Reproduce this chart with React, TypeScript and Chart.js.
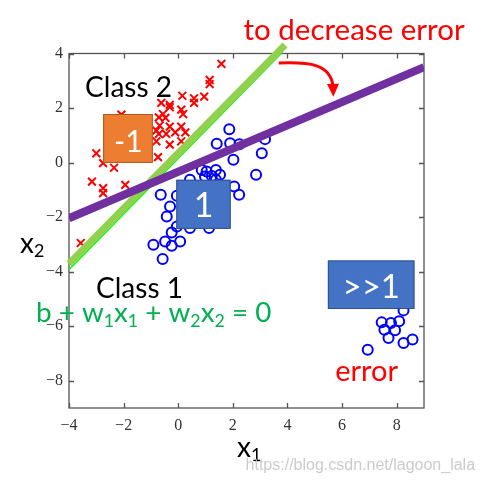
import React, { useEffect, useRef } from "react";
import { Chart, registerables } from "chart.js";

Chart.register(...registerables);

// ---- axis ticks ----
const xTickValues = [-4, -2, 0, 2, 4, 6, 8];
const yTickValues = [-8, -6, -4, -2, 0, 2, 4];

// ---- Class 2 (red crosses) ----
const class2X = [1.58, 1.15, 1.15, 0.15, 0.58, 0.95, 0.58, -0.62, -0.31, -0.31, 0.11, -0.56, 0.18, -0.71, -0.47, -2.08, -0.68, -0.31, 0.11, -0.8, -0.71, -0.11, 0.26, -0.44, -0.8, -0.31, 0.11, -0.74, -3.0, -2.75, -2.35, -3.16, -2.75, -2.75, -1.94, -3.57];
const class2Y = [3.62, 3.03, 2.88, 2.45, 2.36, 2.42, 2.19, 2.19, 2.12, 2.03, 1.94, 1.78, 1.78, 1.66, 1.64, 1.76, 1.36, 1.32, 1.32, 1.17, 1.05, 1.11, 1.11, 1.05, 0.78, 0.66, 0.78, 0.2, 0.34, -0.02, -0.19, -0.7, -0.94, -1.12, -0.82, -2.95];

// ---- Class 1 (blue circles) ----
const class1X = [1.87, 1.41, 1.9, 2.24, 3.18, 3.06, 2.02, 2.85, 0.86, 1.04, 1.38, 0.98, 1.23, 1.53, 1.38, 0.43, -0.64, -0.05, 2.05, 2.23, -0.3, -0.42, -0.05, -0.24, 0.43, 1.13, 0.07, -0.48, -0.91, -0.24, -0.57, 0.62, 1.16, 0.8];
const class1Y = [1.22, 0.69, 0.71, 0.67, 0.86, 0.34, 0.1, -0.45, -0.27, -0.33, -0.27, -0.51, -0.49, -0.45, -0.63, -0.63, -1.18, -1.22, -0.88, -1.18, -1.61, -1.98, -2.34, -2.56, -2.4, -2.4, -2.89, -2.89, -3.01, -3.05, -3.54, -1.18, -1.55, -2.1];

// ---- Class 1 outliers (far cluster) ----
const farX = [8.25, 7.45, 7.79, 8.09, 7.55, 7.94, 7.7, 8.25, 8.58, 6.94];
const farY = [-5.42, -5.86, -5.88, -5.82, -6.13, -6.15, -6.43, -6.62, -6.49, -6.86];

// ---- boundary lines ----
const thinGreenX = [-4, 3.77];
const thinGreenY = [-3.93, 4];
const thickGreenX = [-4, 3.91];
const thickGreenY = [-3.71, 4.31];
const purpleX = [-4, 9];
const purpleY = [-2.04, 3.5];

// ---- annotation boxes (data coords: x0, x1, y0, y1) ----
const boxLabels = ["-1", "1", ">>1"];
const boxX0 = [-2.75, -0.07, 5.48];
const boxX1 = [-0.93, 1.92, 8.65];
const boxY0 = [1.78, -0.63, -3.59];
const boxY1 = [-0.01, -2.43, -5.37];
const boxTextX = [-1.83, 0.93, 7.07];
const boxTextY = [0.4, -1.98, -4.97];

// ---- arrow path (data coords) ----
const arrowX = [3.68, 4.83, 5.56, 5.67, 5.68];
const arrowY = [3.65, 3.69, 3.62, 2.81, 2.41];

const toPts = (xs: number[], ys: number[]) => xs.map((x, i) => ({ x, y: ys[i] }));
const fmt = (v: number) => (v < 0 ? "\u2212" + Math.abs(v) : String(v));

const FONT = "Lato, 'Open Sans', sans-serif";

function drawSeq(
  ctx: CanvasRenderingContext2D,
  x: number,
  y: number,
  parts: { t: string; sub?: boolean }[],
  size: number,
  color: string
) {
  let cx = x;
  ctx.fillStyle = color;
  ctx.textAlign = "left";
  ctx.textBaseline = "alphabetic";
  for (const p of parts) {
    const s = p.sub ? size * 0.64 : size;
    ctx.font = `${s}px ${FONT}`;
    ctx.fillText(p.t, cx, p.sub ? y + size * 0.16 : y);
    cx += ctx.measureText(p.t).width;
  }
}

const decorPlugin = {
  id: "decor",
  beforeDatasetsDraw(chart: any) {
    const { ctx, chartArea: a, scales } = chart;
    const xs = scales.x;
    const ys = scales.y;
    ctx.save();
    ctx.strokeStyle = "#555";
    ctx.lineWidth = 1.3;
    ctx.strokeRect(a.left, a.top, a.right - a.left, a.bottom - a.top);
    const tl = 5;
    ctx.beginPath();
    for (const v of xTickValues) {
      const p = Math.round(xs.getPixelForValue(v)) + 0.5;
      ctx.moveTo(p, a.bottom);
      ctx.lineTo(p, a.bottom - tl);
      ctx.moveTo(p, a.top);
      ctx.lineTo(p, a.top + tl);
    }
    for (const v of yTickValues) {
      const p = Math.round(ys.getPixelForValue(v)) + 0.5;
      ctx.moveTo(a.left, p);
      ctx.lineTo(a.left + tl, p);
      ctx.moveTo(a.right, p);
      ctx.lineTo(a.right - tl, p);
    }
    ctx.stroke();
    ctx.restore();
  },
  afterDatasetsDraw(chart: any) {
    const { ctx, scales } = chart;
    const X = (v: number) => scales.x.getPixelForValue(v);
    const Y = (v: number) => scales.y.getPixelForValue(v);
    ctx.save();

    // boxes
    const fills = ["#ED7D31", "#4472C4", "#4472C4"];
    const strokes = ["#AE5A21", "#2F528F", "#2F528F"];
    const sizes = [30, 34, 33];
    boxLabels.forEach((lab, i) => {
      const x0 = X(boxX0[i]);
      const x1 = X(boxX1[i]);
      const y0 = Y(boxY0[i]);
      const y1 = Y(boxY1[i]);
      ctx.fillStyle = fills[i];
      ctx.fillRect(x0, y0, x1 - x0, y1 - y0);
      ctx.strokeStyle = strokes[i];
      ctx.lineWidth = 1;
      ctx.strokeRect(x0 + 0.5, y0 + 0.5, x1 - x0 - 1, y1 - y0 - 1);
      ctx.fillStyle = "#fff";
      ctx.font = `${sizes[i]}px ${FONT}`;
      ctx.textAlign = "center";
      ctx.textBaseline = "alphabetic";
      ctx.fillText(lab, X(boxTextX[i]), Y(boxTextY[i]));
    });

    // arrow
    ctx.strokeStyle = "#FF0000";
    ctx.lineWidth = 3;
    ctx.beginPath();
    ctx.moveTo(X(arrowX[0]), Y(arrowY[0]));
    ctx.bezierCurveTo(X(arrowX[1]), Y(arrowY[1]), X(arrowX[2]), Y(arrowY[2]), X(arrowX[3]), Y(arrowY[3]));
    ctx.stroke();
    const tx = X(arrowX[4]);
    const ty = Y(arrowY[4]);
    const bx = X(arrowX[3]);
    const by = Y(arrowY[3]);
    const ang = Math.atan2(ty - by, tx - bx);
    const hw = 6;
    const hl = 13;
    ctx.fillStyle = "#FF0000";
    ctx.beginPath();
    ctx.moveTo(tx, ty);
    ctx.lineTo(tx - hl * Math.cos(ang) + hw * Math.sin(ang), ty - hl * Math.sin(ang) - hw * Math.cos(ang));
    ctx.lineTo(tx - hl * Math.cos(ang) - hw * Math.sin(ang), ty - hl * Math.sin(ang) + hw * Math.cos(ang));
    ctx.closePath();
    ctx.fill();

    // texts
    ctx.textBaseline = "alphabetic";
    ctx.textAlign = "center";
    ctx.fillStyle = "#FF0000";
    ctx.font = `29.5px ${FONT}`;
    ctx.fillText("to decrease error", X(6.44), Y(4.49));
    ctx.font = `29px ${FONT}`;
    ctx.fillText("error", X(6.9), Y(-8.02));

    ctx.textAlign = "left";
    ctx.fillStyle = "#000";
    ctx.font = `28px ${FONT}`;
    ctx.fillText("Class 2", X(-3.41), Y(2.42));
    ctx.fillText("Class 1", X(-3.01), Y(-4.95));

    drawSeq(
      ctx,
      X(-5.21),
      Y(-5.86),
      [
        { t: "b + w" },
        { t: "1", sub: true },
        { t: "x" },
        { t: "1", sub: true },
        { t: " + w" },
        { t: "2", sub: true },
        { t: "x" },
        { t: "2", sub: true },
        { t: " = 0" },
      ],
      27.8,
      "#00B050"
    );

    drawSeq(ctx, X(2.15), Y(-10.78), [{ t: "x" }, { t: "1", sub: true }], 28, "#000");
    drawSeq(ctx, X(-5.79), Y(-3.31), [{ t: "x" }, { t: "2", sub: true }], 28, "#000");

    ctx.textAlign = "right";
    ctx.fillStyle = "rgba(190,190,190,0.8)";
    ctx.font = "16px 'Liberation Sans', Arial, sans-serif";
    ctx.fillText("https://blog.csdn.net/lagoon_lala", X(10.87), Y(-11.29));

    ctx.restore();
  },
};

export default function App() {
  const ref = useRef<HTMLCanvasElement | null>(null);
  useEffect(() => {
    if (!ref.current) return;
    const chart = new Chart(ref.current, {
      type: "scatter",
      data: {
        datasets: [
          {
            type: "line",
            data: toPts(purpleX, purpleY),
            borderColor: "#7030A0",
            borderWidth: 8,
            pointRadius: 0,
            order: 0,
            borderCapStyle: "butt",
          } as any,
          {
            type: "line",
            data: toPts(thickGreenX, thickGreenY),
            borderColor: "#92D050",
            borderWidth: 7,
            pointRadius: 0,
            order: 1,
            clip: false,
          } as any,
          {
            type: "line",
            data: toPts(thinGreenX, thinGreenY),
            borderColor: "#00FF00",
            borderWidth: 1.5,
            pointRadius: 0,
            order: 2,
          } as any,
          {
            data: toPts(class2X, class2Y),
            pointStyle: "crossRot",
            pointRadius: 5.5,
            borderColor: "#FF0000",
            backgroundColor: "#FF0000",
            borderWidth: 2,
            order: 3,
          },
          {
            data: toPts(class1X, class1Y),
            pointStyle: "circle",
            pointRadius: 5,
            borderColor: "#0000FF",
            backgroundColor: "rgba(0,0,0,0)",
            borderWidth: 2,
            order: 4,
          },
          {
            data: toPts(farX, farY),
            pointStyle: "circle",
            pointRadius: 5,
            borderColor: "#0000FF",
            backgroundColor: "rgba(0,0,0,0)",
            borderWidth: 2,
            order: 5,
          },
        ],
      },
      options: {
        animation: false,
        responsive: true,
        maintainAspectRatio: false,
        events: [],
        layout: { padding: { left: 0, right: 61, top: 53.5, bottom: 0 } },
        plugins: { legend: { display: false }, tooltip: { enabled: false } },
        scales: {
          x: {
            type: "linear",
            min: -4,
            max: 9,
            grid: { display: false, drawTicks: false },
            border: { display: false },
            ticks: {
              font: { family: "'Liberation Serif', serif", size: 16 },
              color: "#333",
              padding: 8,
              maxRotation: 0,
              autoSkip: false,
              callback: (v: any) => fmt(Number(v)),
            },
            afterBuildTicks: (s: any) => {
              s.ticks = xTickValues.map((v) => ({ value: v }));
            },
            afterFit: (s: any) => {
              s.height = 77;
            },
          },
          y: {
            type: "linear",
            min: -9,
            max: 4,
            grid: { display: false, drawTicks: false },
            border: { display: false },
            ticks: {
              font: { family: "'Liberation Serif', serif", size: 16 },
              color: "#333",
              padding: 6,
              autoSkip: false,
              callback: (v: any) => fmt(Number(v)),
            },
            afterBuildTicks: (s: any) => {
              s.ticks = yTickValues.map((v) => ({ value: v }));
            },
            afterFit: (s: any) => {
              s.width = 69;
            },
          },
        },
      },
      plugins: [decorPlugin],
    });
    return () => chart.destroy();
  }, []);
  return (
    <div style={{ position: "fixed", left: 0, top: 0, width: 485, height: 485, background: "#fff" }}>
      <canvas ref={ref} />
    </div>
  );
}
